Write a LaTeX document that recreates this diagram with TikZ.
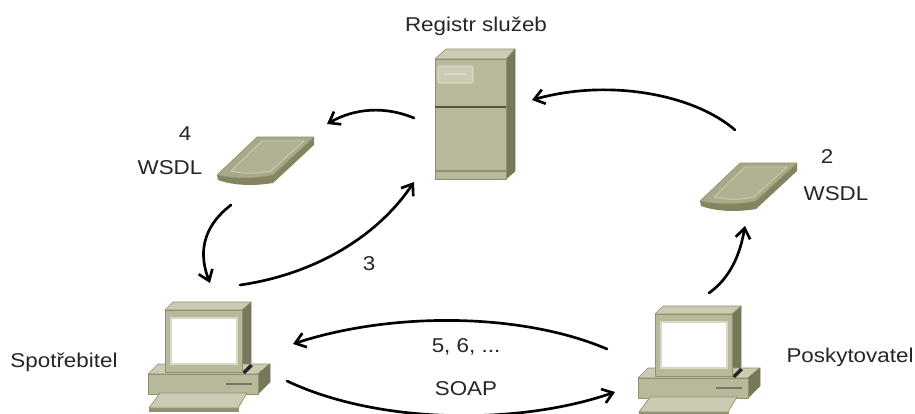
\documentclass[tikz,border=0pt]{standalone}
\usepackage{fontspec}
\setmainfont{Liberation Sans}
\usetikzlibrary{arrows.meta}
\definecolor{cfront}{HTML}{B8B89A}
\definecolor{ctop}{HTML}{CBCBB3}
\definecolor{cside}{HTML}{77775A}
\definecolor{cedge}{HTML}{8F8F72}
\definecolor{clight}{HTML}{D8D8C6}
\definecolor{cdark}{HTML}{55553F}
\definecolor{ccard}{HTML}{A9A988}
\definecolor{ccardin}{HTML}{B0B092}
\definecolor{ccardside}{HTML}{84845F}
\tikzset{
  lab/.style={font=\fontsize{15pt}{17pt}\selectfont, text=black!85, inner sep=0pt, xscale=1.12, yshift=-1pt},
  flow/.style={line width=2pt, black, line cap=round, -{Straight Barb[length=7.5pt,width=11pt,line width=2pt]}},
  front/.style={fill=cfront, draw=cedge, line width=.5pt, line join=round},
  topf/.style={fill=ctop, draw=cedge, line width=.5pt, line join=round},
  sidef/.style={fill=cside, draw=cside, line width=.5pt, line join=round},
  computer/.pic={
    \path[sidef] (242,310) -- (251,302) -- (251,363) -- (242,372) -- cycle;
    \path[topf] (165,310) -- (173,302) -- (251,302) -- (242,310) -- cycle;
    \path[topf] (148,374) -- (158,364) -- (270,364) -- (258,374) -- cycle;
    \path[sidef] (258,374) -- (270,364) -- (270,382) -- (258,394) -- cycle;
    \path[front] (148,374) rectangle (258,394);
    \path[fill=black!85] (242,372) -- (250,364) -- (253,366) -- (245,374) -- cycle;
    \path[draw=cdark!80, line width=1pt] (226,384) -- (252,384);
    \path[front] (165,310) rectangle (242,372);
    \path[fill=white, draw=clight, line width=1.2pt] (171,318) rectangle (237,364);
    \path[sidef,fill=cedge,draw=cedge] (149,408) -- (238,408) -- (238,411) -- (149,411) -- cycle;
    \path[topf] (160,393) -- (247,393) -- (238,408) -- (149,408) -- cycle;
  },
  card/.pic={
    \path[fill=ccardside] (217,175) -- (218,180) .. controls (235,186) and (255,186) .. (273,183) -- (314,145) -- (314,137) -- (273,175) -- cycle;
    \path[fill=ccard, draw=cedge, line width=.4pt, line join=round] (217,175) -- (257,137) -- (314,137) -- (273,175) .. controls (255,179) and (235,179) .. (217,175) -- cycle;
    \path[fill=ccardin, draw=clight!70!ccard, line width=.7pt, line join=round] (231,171) -- (262,141) -- (304,141) -- (271,171) .. controls (257,174) and (244,174) .. (231,171) -- cycle;
  }
}
\begin{document}
\begin{tikzpicture}[x=0.75pt,y=-0.75pt]
\useasboundingbox (0,0) rectangle (915,414);
\fill[white] (0,0) rectangle (915,414);
% server
\path[sidef] (506,59) -- (515,49) -- (515,171) -- (506,179) -- cycle;
\path[topf] (435,59) -- (446,49) -- (515,49) -- (506,59) -- cycle;
\path[front] (435,59) rectangle (506,179);
\path[fill=cedge] (435,170) rectangle (506,172);
\path[draw=cdark, line width=1.1pt] (435,107) -- (506,107);
\path[fill=clight!60!cfront, draw=clight, line width=.8pt, rounded corners=1pt] (438,66) rectangle (473,83);
\path[draw=clight, line width=1.2pt] (444,74) -- (466,74);
% devices
\pic at (0,0) {computer};
\begin{scope}
\clip (600,290) rectangle (915,414);
\pic at (490,4) {computer};
\end{scope}
\pic at (0,0) {card};
\pic at (483,26) {card};
% named anchors for connectors
\coordinate (pUp) at (735,130);
\coordinate (srvR) at (532,100);
\coordinate (srvL) at (414,118);
\coordinate (cardLtop) at (327,124);
\coordinate (cardLbot) at (231,205);
\coordinate (consTop) at (210,283);
\coordinate (consUp) at (240,285);
\coordinate (srvB) at (414,182);
\coordinate (provL) at (607,349);
\coordinate (consR) at (293,344);
\coordinate (consLow) at (287,381);
\coordinate (provLow) at (615,392);
\coordinate (provTop) at (709,293);
\coordinate (cardRbot) at (745,226);
\draw[flow] (pUp) .. controls (695,95) and (610,78) .. (srvR);
\draw[flow] (srvL) .. controls (385,106) and (355,108) .. (cardLtop);
\draw[flow] (cardLbot) .. controls (201,228) and (199,255) .. (consTop);
\draw[flow] (consUp) .. controls (310,275) and (375,240) .. (srvB);
\draw[flow] (provL) .. controls (520,312) and (390,312) .. (consR);
\draw[flow] (consLow) .. controls (380,425) and (520,425) .. (provLow);
\draw[flow] (provTop) .. controls (730,278) and (740,255) .. (cardRbot);
% labels
\node[lab] (lreg) at (476,25) {Registr služeb};
\node[lab] (l4) at (185,132) {4};
\node[lab] (lw1) at (170,166) {WSDL};
\node[lab] (l2) at (827,155) {2};
\node[lab] (lw2) at (836,192) {WSDL};
\node[lab] (l3) at (369,262) {3};
\node[lab] (l5) at (466,345) {5, 6, ...};
\node[lab] (lsoap) at (466,387) {SOAP};
\node[lab] (lcons) at (64,361) {Spotřebitel};
\node[lab] (lprov) at (850,356) {Poskytovatel};
\end{tikzpicture}
\end{document}
